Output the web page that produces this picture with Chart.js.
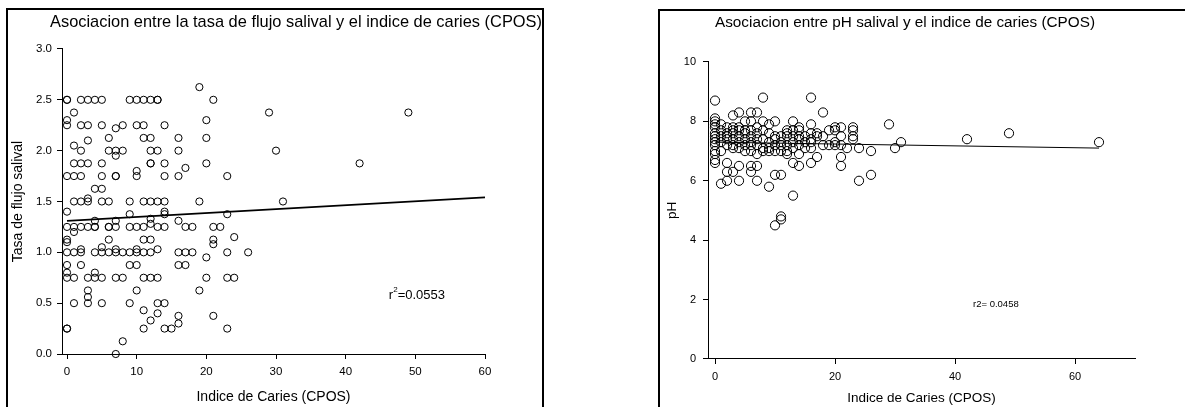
<!DOCTYPE html>
<html>
<head>
<meta charset="utf-8">
<title>Asociacion CPOS</title>
<script src="https://cdn.jsdelivr.net/npm/chart.js@4.4.1/dist/chart.umd.min.js"></script>
<style>
    html, body { margin: 0; padding: 0; background: #fff; }
    body { width: 1185px; height: 407px; position: relative; overflow: hidden; }
    .frame { position: absolute; border: 2px solid #000; box-sizing: border-box; }
    #frameFlow { left: 6px; top: 8px; width: 538px; height: 430px; }
    #framePh { left: 658px; top: 9px; width: 600px; height: 430px; }
    canvas { position: absolute; top: 0; }
    #flowChart { left: 0; }
    #phChart { left: 640px; }
</style>
</head>
<body>
<div class="frame" id="frameFlow"></div>
<div class="frame" id="framePh"></div>
<canvas id="flowChart" width="592" height="407"></canvas>
<canvas id="phChart" width="545" height="407"></canvas>

<script>
/* =======================================================
   DATA - tasa de flujo salival vs CPOS
   ======================================================= */
const flowX = [
    19,
    0, 0, 2, 3, 4, 5, 9, 10, 11, 12, 13, 13, 21,
    1, 29, 49,
    0, 20,
    0, 2, 3, 5, 8, 10, 11, 14,
    7,
    6, 11, 12, 16, 20,
    3,
    1,
    2, 6, 7, 8, 12, 13, 16, 30,
    7,
    1, 2, 3, 5, 12, 12, 14, 20, 42,
    17,
    10,
    0, 1, 2, 5, 7, 7, 10, 14, 16, 23,
    4, 5,
    3,
    1, 2, 3, 5, 6, 9, 11, 12, 13, 14, 19, 31,
    0, 14,
    9, 14, 23,
    12,
    4, 7, 16,
    12,
    0, 1, 2, 3, 4, 4, 6, 6, 7, 9, 10, 11, 13, 14, 17, 18, 21, 22,
    1,
    24,
    0, 6, 11, 12, 21,
    0,
    21,
    5,
    2, 7, 10, 13,
    0, 1, 2, 4, 5, 6, 7, 8, 9, 10, 11, 12, 16, 17, 18, 23, 26,
    20,
    0, 2, 9, 10, 16, 17,
    0, 4,
    0, 1, 3, 4, 5, 7, 8, 11, 12, 13, 20, 23, 24,
    3, 10, 19,
    3,
    1, 3, 5, 9, 13, 14,
    11,
    13,
    16, 21,
    12,
    16,
    0, 0, 11, 14, 15, 23,
    8,
    7
];
const flowY = [
    2.625,
    2.5, 2.5, 2.5, 2.5, 2.5, 2.5, 2.5, 2.5, 2.5, 2.5, 2.5, 2.5, 2.5,
    2.375, 2.375, 2.375,
    2.3, 2.3,
    2.25, 2.25, 2.25, 2.25, 2.25, 2.25, 2.25, 2.25,
    2.22,
    2.125, 2.125, 2.125, 2.125, 2.125,
    2.1,
    2.05,
    2.0, 2.0, 2.0, 2.0, 2.0, 2.0, 2.0, 2.0,
    1.95,
    1.875, 1.875, 1.875, 1.875, 1.875, 1.875, 1.875, 1.875, 1.875,
    1.83,
    1.8,
    1.75, 1.75, 1.75, 1.75, 1.75, 1.75, 1.75, 1.75, 1.75, 1.75,
    1.625, 1.625,
    1.53,
    1.5, 1.5, 1.5, 1.5, 1.5, 1.5, 1.5, 1.5, 1.5, 1.5, 1.5, 1.5,
    1.4, 1.4,
    1.375, 1.375, 1.375,
    1.33,
    1.31, 1.31, 1.31,
    1.28,
    1.25, 1.25, 1.25, 1.25, 1.25, 1.25, 1.25, 1.25, 1.25, 1.25, 1.25, 1.25, 1.25, 1.25, 1.25, 1.25, 1.25, 1.25,
    1.2,
    1.15,
    1.125, 1.125, 1.125, 1.125, 1.125,
    1.1,
    1.08,
    1.05,
    1.03, 1.03, 1.03, 1.03,
    1.0, 1.0, 1.0, 1.0, 1.0, 1.0, 1.0, 1.0, 1.0, 1.0, 1.0, 1.0, 1.0, 1.0, 1.0, 1.0, 1.0,
    0.95,
    0.875, 0.875, 0.875, 0.875, 0.875, 0.875,
    0.8, 0.8,
    0.75, 0.75, 0.75, 0.75, 0.75, 0.75, 0.75, 0.75, 0.75, 0.75, 0.75, 0.75, 0.75,
    0.625, 0.625, 0.625,
    0.56,
    0.5, 0.5, 0.5, 0.5, 0.5, 0.5,
    0.43,
    0.4,
    0.375, 0.375,
    0.33,
    0.3,
    0.25, 0.25, 0.25, 0.25, 0.25, 0.25,
    0.125,
    0.0
];
const flowFitX = [0, 60];
const flowFitY = [1.31, 1.54];
const flowXTicks = [0, 10, 20, 30, 40, 50, 60];
const flowYTicks = [0, 0.5, 1, 1.5, 2, 2.5, 3];

/* =======================================================
   DATA - pH salival vs CPOS
   ======================================================= */
const phX = [
    0, 0, 0, 0, 0, 0, 0, 0, 0, 0, 0, 0, 0, 0,
    1, 1, 1, 1, 1, 1,
    2, 2, 2, 2, 2, 2, 2, 2,
    3, 3, 3, 3, 3, 3, 3, 3,
    4, 4, 4, 4, 4, 4, 4, 4,
    5, 5, 5, 5, 5, 5,
    6, 6, 6, 6, 6, 6, 6, 6, 6,
    7, 7, 7, 7, 7, 7, 7, 7,
    8, 8, 8, 8, 8, 8,
    9, 9, 9, 9, 9, 9,
    10, 10, 10, 10, 10, 10, 10,
    11, 11, 11, 11, 11, 11, 11,
    12, 12, 12, 12, 12, 12,
    13, 13, 13, 13, 13, 13, 13,
    14, 14, 14, 14, 14, 14, 14,
    15, 15, 15,
    16, 16, 16, 16, 16, 16, 16,
    17, 17, 17,
    18, 18, 18,
    19, 19,
    20, 20, 20, 20,
    21, 21, 21, 21, 21,
    22,
    23, 23, 23, 23,
    24, 24,
    26, 26,
    29, 30, 31, 42, 49, 64
];
const phY = [
    8.7, 8.1, 8.0, 7.9, 7.8, 7.6, 7.5, 7.4, 7.3, 7.2, 7.0, 6.9, 6.7, 6.6,
    7.9, 7.7, 7.5, 7.3, 7.0, 5.9,
    7.8, 7.6, 7.5, 7.4, 7.2, 6.6, 6.3, 6.0,
    8.2, 7.8, 7.7, 7.6, 7.4, 7.2, 7.1, 6.3,
    8.3, 7.8, 7.7, 7.5, 7.3, 7.1, 6.5, 6.0,
    8.0, 7.7, 7.6, 7.4, 7.2, 7.0,
    8.3, 8.0, 7.7, 7.5, 7.3, 7.2, 7.0, 6.5, 6.3,
    8.3, 7.8, 7.6, 7.4, 7.2, 6.9, 6.5, 6.0,
    8.8, 8.0, 7.7, 7.4, 7.1, 7.0,
    7.9, 7.6, 7.3, 7.1, 7.0, 5.8,
    8.0, 7.5, 7.4, 7.2, 7.0, 6.2, 4.5,
    7.5, 7.3, 7.2, 7.0, 6.2, 4.8, 4.7,
    7.7, 7.6, 7.5, 7.2, 7.0, 6.9,
    8.0, 7.7, 7.5, 7.3, 7.1, 6.6, 5.5,
    7.8, 7.7, 7.5, 7.4, 7.2, 6.9, 6.5,
    7.5, 7.3, 7.1,
    8.8, 7.9, 7.6, 7.4, 7.3, 7.1, 6.6,
    7.6, 7.5, 6.8,
    8.3, 7.5, 7.2,
    7.7, 7.2,
    7.8, 7.7, 7.3, 7.2,
    7.8, 7.5, 7.2, 6.8, 6.5,
    7.1,
    7.8, 7.7, 7.5, 7.4,
    7.1, 6.0,
    7.0, 6.2,
    7.9, 7.1, 7.3, 7.4, 7.6, 7.3
];
const phFitX = [0, 64];
const phFitY = [7.3, 7.1];
const phXTicks = [0, 20, 40, 60];
const phYTicks = [0, 2, 4, 6, 8, 10];

/* =======================================================
   HELPERS
   ======================================================= */
Chart.defaults.font.family = "'Liberation Sans', Arial, sans-serif";
Chart.defaults.color = "#000";

function toPoints(xs, ys) {
    return xs.map((x, i) => ({ x: x, y: ys[i] }));
}

// r2 text written at a data position
const noteLabel = {
    id: "noteLabel",
    afterDatasetsDraw(chart, args, opts) {
        if (!opts.text) return;
        const ctx = chart.ctx;
        let px = chart.scales.x.getPixelForValue(opts.x);
        const py = chart.scales.y.getPixelForValue(opts.y);
        ctx.save();
        ctx.fillStyle = "#000";
        ctx.textBaseline = "middle";
        ctx.textAlign = "left";
        ctx.font = opts.size + "px " + Chart.defaults.font.family;
        ctx.fillText(opts.text, px, py);
        px += ctx.measureText(opts.text).width;
        if (opts.sup) {
            ctx.font = (opts.size * 0.62) + "px " + Chart.defaults.font.family;
            ctx.fillText(opts.sup, px, py - opts.size * 0.42);
            px += ctx.measureText(opts.sup).width;
            ctx.font = opts.size + "px " + Chart.defaults.font.family;
            ctx.fillText(opts.rest, px, py);
        }
        ctx.restore();
    }
};

function makeChart(id, cfg) {
    const axisGrid = { display: true, drawOnChartArea: false, drawTicks: true, tickLength: 5, color: "#000", lineWidth: 1 };
    const axisBorder = { display: true, color: "#000", width: 1 };

    new Chart(document.getElementById(id), {
        data: {
            datasets: [
                {
                    type: "scatter",
                    data: toPoints(cfg.xs, cfg.ys),
                    pointStyle: "circle",
                    pointRadius: cfg.radius,
                    pointBorderWidth: 1,
                    pointBorderColor: "#000",
                    pointBackgroundColor: "rgba(255,255,255,0)",
                    clip: false
                },
                {
                    type: "line",
                    data: toPoints(cfg.fitX, cfg.fitY),
                    borderColor: "#000",
                    borderWidth: cfg.fitWidth,
                    pointRadius: 0,
                    fill: false,
                    clip: false
                }
            ]
        },
        options: {
            responsive: false,
            animation: false,
            layout: { padding: { left: 0, top: 0, bottom: 0, right: cfg.padRight } },
            plugins: {
                legend: { display: false },
                tooltip: { enabled: false },
                title: {
                    display: true,
                    text: cfg.title,
                    color: "#000",
                    font: { size: cfg.titleSize, weight: "normal" },
                    padding: cfg.titlePad
                },
                noteLabel: cfg.note
            },
            scales: {
                x: {
                    type: "linear",
                    min: cfg.xMin,
                    max: cfg.xMax,
                    afterBuildTicks: s => { s.ticks = cfg.xTicks.map(v => ({ value: v })); },
                    afterFit: s => { s.height = cfg.xHeight; },
                    grid: axisGrid,
                    border: axisBorder,
                    ticks: { color: "#000", font: { size: cfg.tickSize }, padding: 6, maxRotation: 0, autoSkip: false },
                    title: {
                        display: true, text: "Indice de Caries (CPOS)", color: "#000",
                        font: { size: cfg.axisSize }, padding: { top: 0, bottom: cfg.xTitleBottom }
                    }
                },
                y: {
                    type: "linear",
                    min: cfg.yMin,
                    max: cfg.yMax,
                    afterBuildTicks: s => { s.ticks = cfg.yTicks.map(v => ({ value: v })); },
                    afterFit: s => { s.width = cfg.yWidth; },
                    grid: axisGrid,
                    border: axisBorder,
                    ticks: {
                        color: "#000", font: { size: cfg.tickSize }, padding: cfg.yTickPad, autoSkip: false,
                        callback: v => cfg.yFormat(v)
                    },
                    title: {
                        display: true, text: cfg.yTitle, color: "#000",
                        font: { size: cfg.axisSize }, padding: { top: cfg.yTitleTop, bottom: 0 }
                    }
                },
                spacer: {
                    type: "linear",
                    position: "right",
                    display: true,
                    grid: { display: false },
                    border: { display: false },
                    ticks: { display: false },
                    afterFit: s => { s.width = cfg.spacer; }
                }
            }
        },
        plugins: [noteLabel]
    });
}

/* =======================================================
   CHARTS
   ======================================================= */
makeChart("flowChart", {
    xs: flowX, ys: flowY, fitX: flowFitX, fitY: flowFitY,
    xTicks: flowXTicks, yTicks: flowYTicks,
    xMin: -0.72, xMax: 60, yMin: 0, yMax: 3,
    radius: 3.6, fitWidth: 1.8,
    title: "Asociacion entre la tasa de flujo salival y el indice de caries (CPOS)",
    titleSize: 16.4, titlePad: { top: 12.9, bottom: 16.4 },
    yTitle: "Tasa de flujo salival",
    tickSize: 11.5, axisSize: 14, yTickPad: 5,
    yFormat: v => v.toFixed(1),
    xHeight: 53, yWidth: 62, xTitleBottom: 1.6, yTitleTop: 9.6,
    padRight: 0, spacer: 107,
    note: { text: "r", sup: "2", rest: "=0.0553", size: 13, x: 46.2, y: 0.58 }
});

makeChart("phChart", {
    xs: phX, ys: phY, fitX: phFitX, fitY: phFitY,
    xTicks: phXTicks, yTicks: phYTicks,
    xMin: -1.17, xMax: 70, yMin: 0, yMax: 10,
    radius: 4.6, fitWidth: 1,
    title: "Asociacion entre pH salival y el indice de caries (CPOS)",
    titleSize: 15.3, titlePad: { top: 13.5, bottom: 30.1 },
    yTitle: "pH",
    tickSize: 11, axisSize: 13.5, yTickPad: 7,
    yFormat: v => String(v),
    xHeight: 48, yWidth: 68, xTitleBottom: 0.9, yTitleTop: 23.9,
    padRight: 15, spacer: 35,
    note: { text: "r2= 0.0458", size: 9.5, x: 43, y: 1.85 }
});
</script>
</body>
</html>
